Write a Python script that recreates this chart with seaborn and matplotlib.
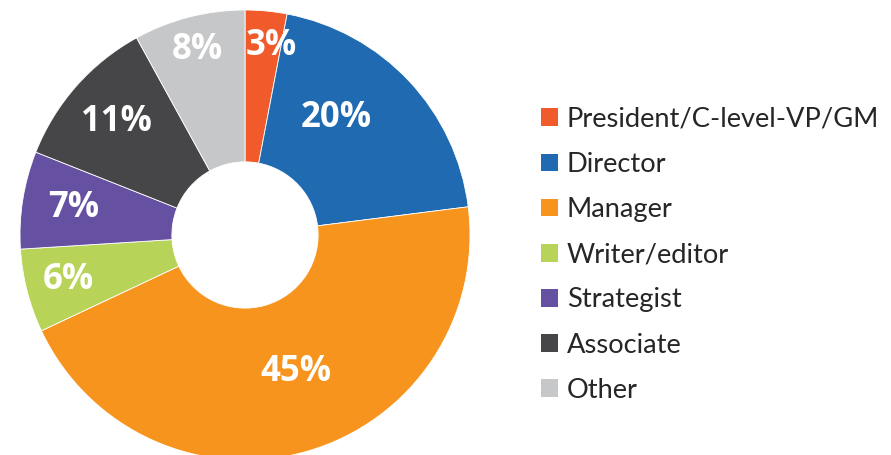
import numpy as np
import seaborn as sns
import matplotlib.pyplot as plt
from matplotlib.patches import Patch

roles = ["President/C-level-VP/GM", "Director", "Manager", "Writer/editor",
         "Strategist", "Associate", "Other"]
shares = [3, 20, 45, 6, 7, 11, 8]
colors = ["#F15A2B", "#1F6AB1", "#F7941E", "#B8D458", "#6650A1", "#464648", "#C6C7C9"]
# label placement: fraction of outer radius and angular nudge (degrees)
label_r = [0.85, 0.66, 0.65, 0.81, 0.77, 0.76, 0.85]
label_da = [2.5, -9, -4, 0, 0, 0, 0]

sns.set_theme(style="white")
plt.rcParams['font.family'] = ['Lato', 'DejaVu Sans']

fig = plt.figure(figsize=(8.91, 4.55), dpi=100)
ax = fig.add_axes([20 / 891, -5 / 455, 450 / 891, 450 / 455])

wedges, _ = ax.pie(shares, colors=colors, startangle=90, counterclock=False,
                   radius=1, wedgeprops=dict(width=0.675, edgecolor="white", linewidth=0.6))

total = sum(shares)
cum = np.cumsum([0] + shares)
for i, v in enumerate(shares):
    mid = (cum[i] + v / 2) / total * 360 + label_da[i]
    ang = np.deg2rad(90 - mid)
    ax.text(label_r[i] * np.cos(ang), label_r[i] * np.sin(ang), f"{v}%",
            ha="center", va="center", color="white", fontsize=25,
            fontweight="bold", family=["Open Sans", "DejaVu Sans"])

ax.set_xlim(-1, 1)
ax.set_ylim(-1, 1)
ax.set_aspect("equal")
ax.axis("off")

handles = [Patch(facecolor=c, edgecolor="none") for c in colors]
fig.legend(handles, roles, loc="upper left", bbox_to_anchor=(530 / 891, 1 - 96 / 455),
           frameon=False, fontsize=19.6, handlelength=0.62, handleheight=0.62,
           handletextpad=0.33, labelspacing=0.74, borderaxespad=0)

fig.savefig("out.png", dpi=100)
